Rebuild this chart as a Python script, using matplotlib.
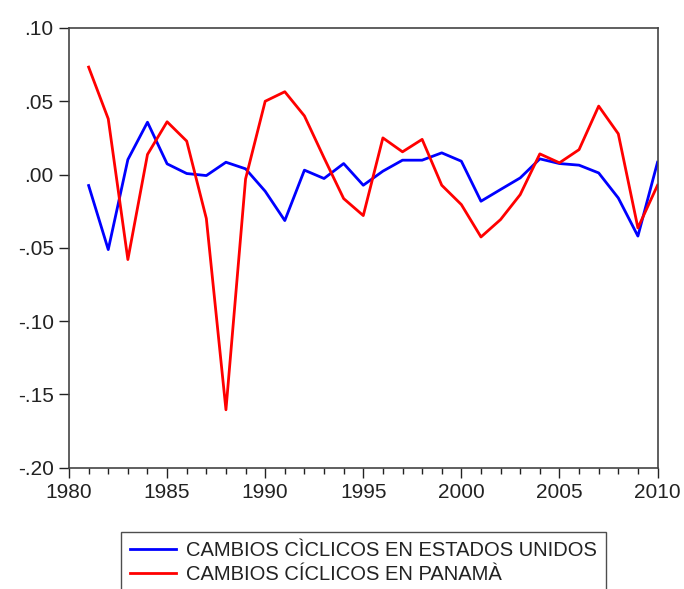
import numpy as np
import matplotlib
matplotlib.use('Agg')
import matplotlib.pyplot as plt
from matplotlib.ticker import MultipleLocator, FuncFormatter

plt.rcParams['font.family'] = ['Liberation Sans', 'DejaVu Sans']

years = np.arange(1981, 2011)

# ciclo de EE.UU.
usa = [-0.0075, -0.0512, 0.0102, 0.0357, 0.0073, 0.0007, -0.0007, 0.0084, 0.0039, -0.0114,
       -0.0314, 0.0030, -0.0027, 0.0075, -0.0073, 0.0023, 0.0098, 0.0098, 0.0148, 0.0091,
       -0.0182, -0.0102, -0.0023, 0.0107, 0.0075, 0.0064, 0.0011, -0.0160, -0.0420, 0.0084]

# ciclo de Panama
pan = [0.0733, 0.0380, -0.0580, 0.0137, 0.0360, 0.0228, -0.0300, -0.1605, -0.0030, 0.0500,
       0.0565, 0.0400, 0.0114, -0.0164, -0.0280, 0.0250, 0.0155, 0.0240, -0.0073, -0.0205,
       -0.0426, -0.0307, -0.0137, 0.0141, 0.0080, 0.0170, 0.0467, 0.0278, -0.0364, -0.0073]

labels = ['CAMBIOS CÌCLICOS EN ESTADOS UNIDOS', 'CAMBIOS CÍCLICOS EN PANAMÀ']


def fmt(v, pos):
    s = '%.2f' % v
    return s.replace('0.', '.', 1)


fig = plt.figure(figsize=(6.84, 5.89), dpi=100)
ax = fig.add_axes([0.1009, 0.206, 0.8604, 0.7465])

ax.plot(years, usa, color='#0000ff', lw=2.0, label=labels[0])
ax.plot(years, pan, color='#ff0000', lw=2.0, label=labels[1])

ax.set_xlim(1980, 2010)
ax.set_ylim(-0.20, 0.10)
ax.xaxis.set_major_locator(MultipleLocator(5))
ax.xaxis.set_minor_locator(MultipleLocator(1))
ax.yaxis.set_major_locator(MultipleLocator(0.05))
ax.yaxis.set_major_formatter(FuncFormatter(fmt))
ax.tick_params(axis='both', which='major', direction='out', length=7, width=1,
               labelsize=15, color='#222222', labelcolor='#222222')
ax.tick_params(axis='y', which='major', pad=4)
ax.tick_params(axis='x', which='major', pad=4)
ax.tick_params(axis='x', which='minor', direction='out', length=4.3, width=1, color='#222222')
for sp in ax.spines.values():
    sp.set_color('#444444')
    sp.set_linewidth(1.2)

leg = fig.legend(loc='upper center', bbox_to_anchor=(363.5 / 684, 1 - 532 / 589),
                 fontsize=14.5, frameon=True, fancybox=False, edgecolor='#222222',
                 handlelength=2.25, handletextpad=0.5, labelspacing=0.25,
                 borderpad=0.45, borderaxespad=0)
leg.get_frame().set_linewidth(1.0)
for t in leg.get_texts():
    t.set_color('#222222')

fig.savefig('out.png', dpi=100)
